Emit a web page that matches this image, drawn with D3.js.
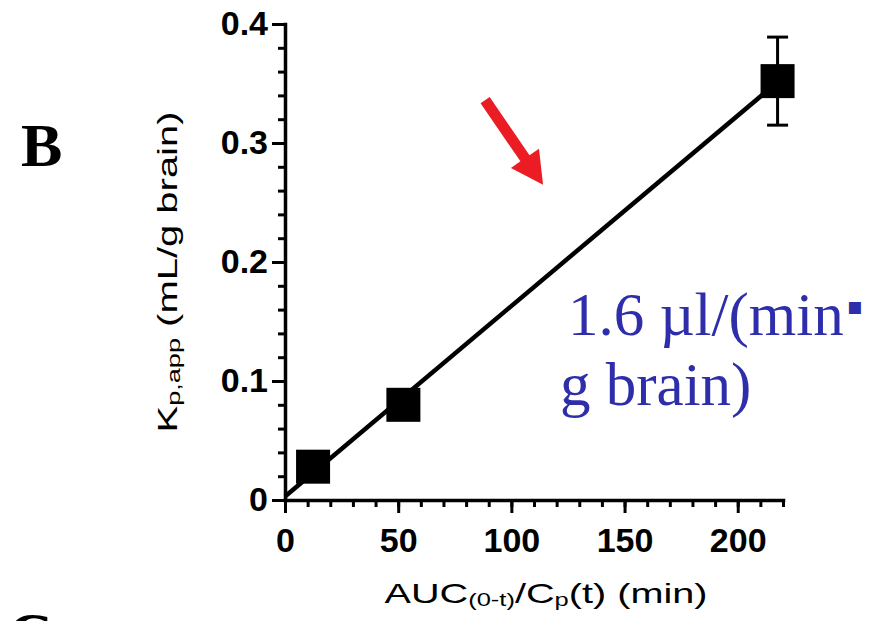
<!DOCTYPE html>
<html>
<head>
<meta charset="utf-8">
<script src="https://cdn.jsdelivr.net/npm/d3@7"></script>
<style>
  html, body { margin: 0; padding: 0; background: #ffffff; }
  svg { display: block; }
</style>
</head>
<body>
<svg id="chart" width="886" height="621"></svg>
<script>
// ---------- data ----------
const xValues   = [12.4, 52.3, 217.6];      // AUC(0-t)/Cp(t) (min)
const yValues   = [0.028, 0.080, 0.352];    // Kp,app (mL/g brain)
const yErrors   = [0.003, 0.004, 0.037];    // SEM
const fitSlope  = 0.0016;                   // mL/(min·g) = 1.6 µl/(min·g brain)
const fitIntercept = 0.003;
const fitRange  = [0, 217.6];
const xMajorTicks = [0, 50, 100, 150, 200];
const xMinorTicks = d3.range(0, 221, 10);
const yMajorTicks = [0, 0.1, 0.2, 0.3, 0.4];
const yMinorTicks = d3.range(0, 0.4001, 0.02);
const yTickLabels = ["0", "0.1", "0.2", "0.3", "0.4"];
const arrowTail = [88.4, 0.336];
const arrowTip  = [114.0, 0.265];
const noteLine1 = "1.6 \u00b5l/(min";
const noteDot   = "\u25aa";
const noteLine2 = "g brain)";
const notePos   = [[125, 0.1387], [121.5, 0.0798]];

// ---------- setup ----------
const svg = d3.select("#chart");
svg.append("rect").attr("width", 886).attr("height", 621).attr("fill", "#ffffff");

const x = d3.scaleLinear().domain([0, 220]).range([285, 783]);
const y = d3.scaleLinear().domain([0, 0.4]).range([500, 24]);

const tickFont = "'Liberation Sans', Arial, Helvetica, sans-serif";

// minor axes (carry the domain lines)
svg.append("g").attr("transform", `translate(0,${y(0)})`)
  .call(d3.axisBottom(x).tickValues(xMinorTicks).tickSize(7).tickSizeOuter(0).tickFormat(""));
svg.append("g").attr("transform", `translate(${x(0)},0)`)
  .call(d3.axisLeft(y).tickValues(yMinorTicks).tickSize(7).tickSizeOuter(0).tickFormat(""));

// major axes
const gxMajor = svg.append("g").attr("transform", `translate(0,${y(0)})`)
  .call(d3.axisBottom(x).tickValues(xMajorTicks).tickSize(13).tickPadding(15).tickSizeOuter(0));
const gyMajor = svg.append("g").attr("transform", `translate(${x(0)},0)`)
  .call(d3.axisLeft(y).tickValues(yMajorTicks).tickSize(13).tickPadding(4).tickSizeOuter(0)
    .tickFormat((d, i) => yTickLabels[i]));

gxMajor.select(".domain").remove();
gyMajor.select(".domain").remove();

svg.selectAll(".domain").attr("stroke", "#000").attr("stroke-width", 3.5).attr("stroke-linecap", "square");
svg.selectAll(".tick line").attr("stroke", "#000").attr("stroke-width", 3);
svg.selectAll(".tick text")
  .attr("fill", "#000")
  .style("font-family", tickFont)
  .style("font-weight", "bold")
  .style("font-size", "34px");

// ---------- regression line ----------
svg.append("line")
  .attr("x1", x(fitRange[0])).attr("y1", y(fitIntercept + fitSlope * fitRange[0]))
  .attr("x2", x(fitRange[1])).attr("y2", y(fitIntercept + fitSlope * fitRange[1]))
  .attr("stroke", "#000").attr("stroke-width", 4.5);

// ---------- error bars ----------
const pts = xValues.map((v, i) => ({ x: v, y: yValues[i], e: yErrors[i] }));
const eb = svg.append("g").attr("stroke", "#000").attr("stroke-width", 3);
pts.forEach(p => {
  eb.append("line").attr("x1", x(p.x)).attr("x2", x(p.x)).attr("y1", y(p.y - p.e)).attr("y2", y(p.y + p.e));
  eb.append("line").attr("x1", x(p.x) - 10.5).attr("x2", x(p.x) + 10.5).attr("y1", y(p.y + p.e)).attr("y2", y(p.y + p.e));
  eb.append("line").attr("x1", x(p.x) - 10.5).attr("x2", x(p.x) + 10.5).attr("y1", y(p.y - p.e)).attr("y2", y(p.y - p.e));
});

// ---------- markers ----------
const ms = 34;
svg.append("g").selectAll("rect").data(pts).join("rect")
  .attr("x", d => x(d.x) - ms / 2).attr("y", d => y(d.y) - ms / 2)
  .attr("width", ms).attr("height", ms).attr("fill", "#000");

// ---------- axis titles ----------
const yt = svg.append("text")
  .attr("transform", `translate(177,272) rotate(-90)`)
  .attr("text-anchor", "middle")
  .attr("textLength", 321).attr("lengthAdjust", "spacingAndGlyphs")
  .style("font-family", tickFont).style("font-size", "28px").attr("fill", "#000");
yt.append("tspan").text("K");
yt.append("tspan").text("p,app").style("font-size", "19px").attr("dy", 3);
yt.append("tspan").text(" (mL/g brain)").attr("dy", -3);

const xt = svg.append("text")
  .attr("x", 546).attr("y", 603)
  .attr("text-anchor", "middle")
  .attr("textLength", 323).attr("lengthAdjust", "spacingAndGlyphs")
  .style("font-family", tickFont).style("font-size", "28px").attr("fill", "#000");
xt.append("tspan").text("AUC");
xt.append("tspan").text("(0-t)").style("font-size", "18px").attr("dy", 3);
xt.append("tspan").text("/C").attr("dy", -3);
xt.append("tspan").text("p").style("font-size", "18px").attr("dy", 3);
xt.append("tspan").text("(t) (min)").attr("dy", -3);

// ---------- panel letters ----------
const serif = "'Liberation Serif', 'Times New Roman', serif";
svg.append("text").attr("x", 21).attr("y", 166).text("B")
  .style("font-family", serif).style("font-weight", "bold").style("font-size", "62px").attr("fill", "#000");
svg.append("text").attr("x", 8).attr("y", 655).text("C")
  .style("font-family", serif).style("font-weight", "bold").style("font-size", "62px").attr("fill", "#000");

// ---------- annotation ----------
const n1 = svg.append("text")
  .attr("x", x(notePos[0][0])).attr("y", y(notePos[0][1]))
  .style("font-family", serif).style("font-size", "61px").attr("fill", "#2e2eaa");
n1.append("tspan").text(noteLine1);
n1.append("tspan").text(noteDot).style("font-family", "'DejaVu Sans', sans-serif")
  .style("font-size", "24px").attr("dx", 3).attr("dy", -21);
svg.append("text")
  .attr("x", x(notePos[1][0])).attr("y", y(notePos[1][1]))
  .text(noteLine2)
  .style("font-family", serif).style("font-size", "61px").attr("fill", "#2e2eaa");

// red arrow
(function () {
  const tx = x(arrowTail[0]), ty = y(arrowTail[1]);
  const hx = x(arrowTip[0]),  hy = y(arrowTip[1]);
  const dx = hx - tx, dy = hy - ty, L = Math.hypot(dx, dy);
  const ux = dx / L, uy = dy / L, nx = -uy, ny = ux;
  const sw = 5.5, hw = 17, hl = 32;
  const bx = hx - ux * hl, by = hy - uy * hl;
  const P = [
    [tx + nx * sw, ty + ny * sw],
    [bx + nx * sw, by + ny * sw],
    [bx + nx * hw, by + ny * hw],
    [hx, hy],
    [bx - nx * hw, by - ny * hw],
    [bx - nx * sw, by - ny * sw],
    [tx - nx * sw, ty - ny * sw]
  ];
  svg.append("path").attr("d", d3.line()(P) + "Z").attr("fill", "#ec1c24");
})();
</script>
</body>
</html>
